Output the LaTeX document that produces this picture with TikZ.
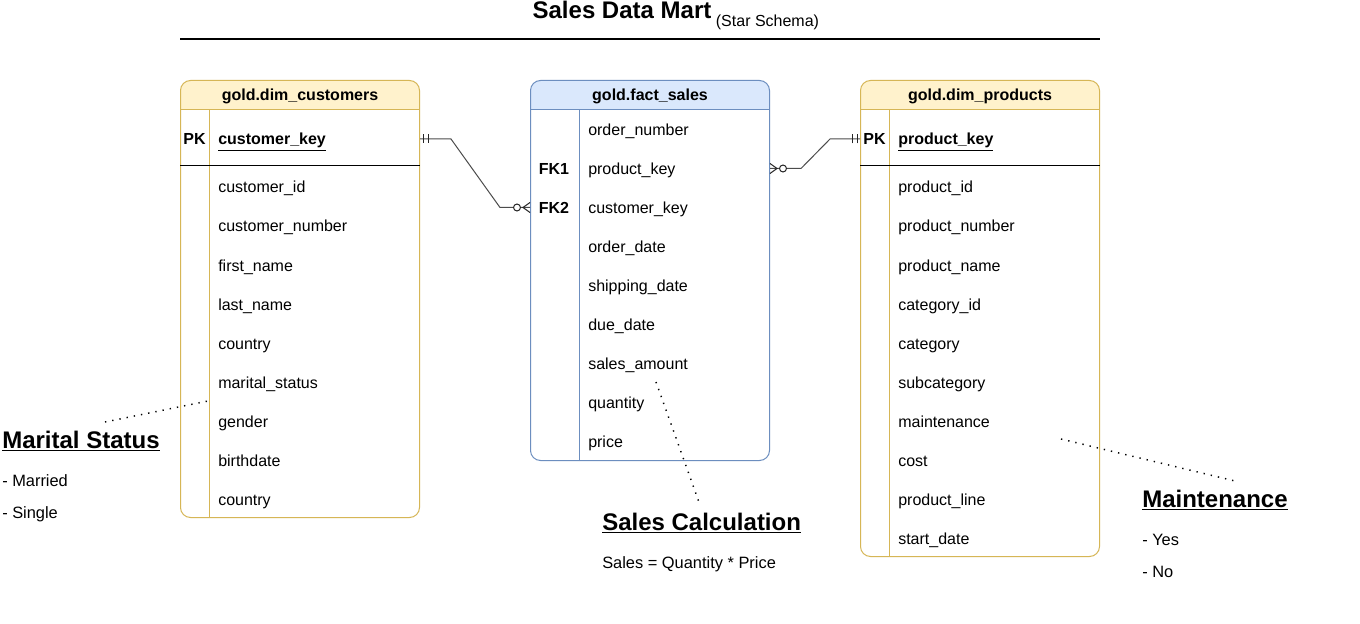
\documentclass[tikz,border=0pt]{standalone}
\usepackage{fontspec}
\setmainfont{Liberation Sans}
\usetikzlibrary{positioning, calc}
\definecolor{dimfill}{HTML}{FFF2CC}
\definecolor{dimline}{HTML}{D6B656}
\definecolor{factfill}{HTML}{DAE8FC}
\definecolor{factline}{HTML}{6C8EBF}
\begin{document}
\begin{tikzpicture}[
        x=0.75pt, y=-0.75pt,
        tablebox/.style 2 args={rectangle, draw=#2, line width=0.75pt, rounded corners=7.5pt, fill=white, anchor=north west, minimum width=179.25pt, inner sep=0pt,
            path picture={\fill[#1, sharp corners] (path picture bounding box.north west) rectangle ([yshift=-22.5pt]path picture bounding box.north east);}},
        tabletitle/.style={anchor=base, inner sep=0pt, font=\bfseries\fontsize{12}{14}\selectfont},
        fieldrow/.style={anchor=base west, inner sep=0pt, text height=10pt, text depth=1pt, font=\fontsize{12}{14}\selectfont},
        keyfield/.style={fieldrow, font=\bfseries\fontsize{12}{14}\selectfont},
        keytag/.style={anchor=base, inner sep=0pt, font=\bfseries\fontsize{12}{14}\selectfont},
        relline/.style={draw=black!70, line width=0.75pt},
        markline/.style={black!85, line width=0.75pt},
        onemark/.pic={\draw[markline] (3,-4.5) -- (3,4.5) (8,-4.5) -- (8,4.5);},
        manymark/.pic={\draw[markline] (0,-5) -- (7,0) -- (0,5); \draw[markline, fill=white] (13,0) circle [radius=2.6pt];},
        noteline/.style={line width=1.1pt, dash pattern=on 1pt off 4.5pt},
        notehead/.style={anchor=base west, inner sep=0pt, font=\bfseries\fontsize{18}{21}\selectfont},
        noteitem/.style={anchor=base west, inner sep=0pt, font=\fontsize{12.3}{14}\selectfont}
    ]
    \path[use as bounding box, fill=white] (0,0) rectangle (1360,624);

    % title
    \node (title) [anchor=base, inner sep=0pt, font=\bfseries\fontsize{18}{21}\selectfont] at (622,18.5) {Sales Data Mart};
    \node (subtitle) [anchor=base west, inner sep=0pt, font=\fontsize{12}{14}\selectfont] at ($(title.base east)+(4,8)$) {(Star Schema)};
    \draw[line width=1.5pt] (180,39) -- (1100,39);

    % gold.dim_customers
    \node (custT) [tablebox={dimfill}{dimline}, minimum height=327.75pt] at (180,80) {};
    \node (custH) [tabletitle] at ($(custT.north)+(0,21)$) {gold.dim\_customers};
    \draw[dimline, line width=0.75pt] ([yshift=-22.5pt]custT.north west) -- ([yshift=-22.5pt]custT.north east);
    \draw[dimline, line width=0.75pt] ([shift={(21.75pt,-22.5pt)}]custT.north west) -- ([xshift=21.75pt]custT.south west);
    \draw[line width=0.75pt] ([yshift=-64.5pt]custT.north west) -- ([yshift=-64.5pt]custT.north east);
    \node (custPKtag) [keytag] at (194.5,145) {PK};
    \node (custPK) [keyfield] at (218,145) {\underline{customer\_key}};
    \foreach \f [count=\i] in {customer\_id, customer\_number, first\_name, last\_name, country, marital\_status, gender, birthdate, country}
        \node (cust\i) [fieldrow] at (218,154+39*\i) {\f};

    % gold.fact_sales
    \node (factT) [tablebox={factfill}{factline}, minimum height=285pt] at (530,80) {};
    \node (factH) [tabletitle] at ($(factT.north)+(0,21)$) {gold.fact\_sales};
    \draw[factline, line width=0.75pt] ([yshift=-22.5pt]factT.north west) -- ([yshift=-22.5pt]factT.north east);
    \draw[factline, line width=0.75pt] ([shift={(36.75pt,-22.5pt)}]factT.north west) -- ([xshift=36.75pt]factT.south west);
    \node (fk1) [keytag] at (554,174.5) {FK1};
    \node (fk2) [keytag] at (554,213.5) {FK2};
    \foreach \f [count=\i from 0] in {order\_number, product\_key, customer\_key, order\_date, shipping\_date, due\_date, sales\_amount, quantity, price}
        \node (fact\i) [fieldrow] at (588,135.5+39*\i) {\f};

    % gold.dim_products
    \node (prodT) [tablebox={dimfill}{dimline}, minimum height=357pt] at (860,80) {};
    \node (prodH) [tabletitle] at ($(prodT.north)+(0,21)$) {gold.dim\_products};
    \draw[dimline, line width=0.75pt] ([yshift=-22.5pt]prodT.north west) -- ([yshift=-22.5pt]prodT.north east);
    \draw[dimline, line width=0.75pt] ([shift={(21.75pt,-22.5pt)}]prodT.north west) -- ([xshift=21.75pt]prodT.south west);
    \draw[line width=0.75pt] ([yshift=-64.5pt]prodT.north west) -- ([yshift=-64.5pt]prodT.north east);
    \node (prodPKtag) [keytag] at (874.5,145) {PK};
    \node (prodPK) [keyfield] at (898,145) {\underline{product\_key}};
    \foreach \f [count=\i] in {product\_id, product\_number, product\_name, category\_id, category, subcategory, maintenance, cost, product\_line, start\_date}
        \node (prod\i) [fieldrow] at (898,154+39*\i) {\f};

    % relations
    \draw[relline] (custT.east |- custPK) -- ++(31,0) -- ($(factT.west |- fact2)+(-30,0)$) -- (factT.west |- fact2);
    \draw[relline] (factT.east |- fact1) -- ++(31,0) -- ($(prodT.west |- prodPK)+(-30,0)$) -- (prodT.west |- prodPK);
    \pic at (custT.east |- custPK) {onemark};
    \pic[rotate=180] at (prodT.west |- prodPK) {onemark};
    \pic[rotate=180] at (factT.west |- fact2) {manymark};
    \pic at (factT.east |- fact1) {manymark};

    % notes
    \node (msHead) [notehead] at (2,448) {\underline{Marital Status}};
    \node (msItem1) [noteitem] at (2,486) {- Married};
    \node (msItem2) [noteitem] at (2,518) {- Single};
    \coordinate (msA) at (105,422);
    \coordinate (msB) at (208,401);
    \draw[noteline] (msA) -- (msB);

    \node (scHead) [notehead] at (602,530) {\underline{Sales Calculation}};
    \node (scItem) [noteitem] at (602,568) {Sales = Quantity * Price};
    \coordinate (scA) at (656,382);
    \coordinate (scB) at (700,505);
    \draw[noteline] (scA) -- (scB);

    \node (mtHead) [notehead] at (1142,507) {\underline{Maintenance}};
    \node (mtItem1) [noteitem] at (1142,545) {- Yes};
    \node (mtItem2) [noteitem] at (1142,577) {- No};
    \coordinate (mtA) at (1061,439);
    \coordinate (mtB) at (1239,482);
    \draw[noteline] (mtA) -- (mtB);
\end{tikzpicture}
\end{document}
